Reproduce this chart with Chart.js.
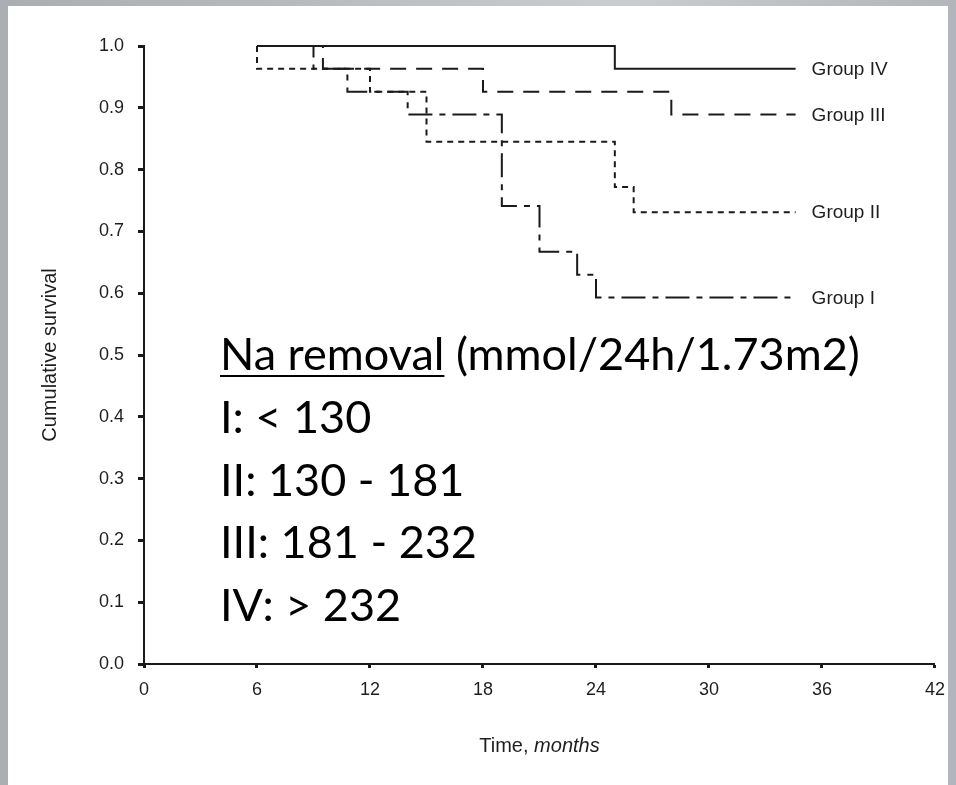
<!DOCTYPE html>
<html><head><meta charset="utf-8">
<script src="https://cdn.jsdelivr.net/npm/chart.js@4.4.1/dist/chart.umd.min.js"></script>
<style>
html,body{margin:0;padding:0;width:956px;height:785px;overflow:hidden;}
body{position:relative;background:linear-gradient(90deg,#aaaeb3 0%,#b6bac0 30%,#c9cdd2 65%,#b2b6bb 100%);}
#panel{position:absolute;left:8px;top:6px;width:940px;height:779px;background:#fff;}
#wrap{position:absolute;left:0;top:0;width:956px;height:785px;}
#note{position:absolute;left:220px;top:322px;font-family:Lato,'Open Sans',sans-serif;color:#000;line-height:62.8px;white-space:nowrap;}
#note span.u{text-decoration:underline;text-decoration-thickness:2px;text-underline-offset:5px;}
</style></head>
<body>
<div id="panel"></div>
<div id="wrap"><canvas id="c" width="956" height="785"></canvas></div>
<div id="note"></div>
<script>
// ---- data ----
const groupNames = ['Group I', 'Group II', 'Group III', 'Group IV'];
const groupI_t   = [6, 9, 10.8, 14, 19, 21, 23, 24, 34.6];
const groupI_s   = [1.0, 0.963, 0.926, 0.889, 0.741, 0.667, 0.630, 0.593, 0.593];
const groupII_t  = [6, 6, 12, 15, 25, 26, 34.6];
const groupII_s  = [1.0, 0.963, 0.926, 0.845, 0.772, 0.731, 0.731];
const groupIII_t = [6, 9.5, 18, 28, 34.6];
const groupIII_s = [1.0, 0.963, 0.926, 0.889, 0.889];
const groupIV_t  = [6, 25, 34.6];
const groupIV_s  = [1.0, 0.963, 0.963];
const xTicks = [0, 6, 12, 18, 24, 30, 36, 42];
const yTicks = [0.0, 0.1, 0.2, 0.3, 0.4, 0.5, 0.6, 0.7, 0.8, 0.9, 1.0];
const yTitle = 'Cumulative survival';
const xTitleA = 'Time, ';
const xTitleB = 'months';
const noteHead = 'Na removal';
const noteUnit = ' (mmol/24h/1.73m2)';
const noteLines = ['I: < 130', 'II: 130 - 181', 'III: 181 - 232', 'IV: > 232'];

// ---- annotation block ----
const note = document.getElementById('note');
const first = document.createElement('div');
const sp = document.createElement('span');
const su = document.createElement('span'); su.className = 'u'; su.textContent = noteHead;
sp.appendChild(su); sp.appendChild(document.createTextNode(noteUnit));
first.appendChild(sp); note.appendChild(first);
noteLines.forEach(t => { const d = document.createElement('div'); d.textContent = t; note.appendChild(d); });
let fs = 44; note.style.fontSize = fs + 'px';
const w0 = sp.getBoundingClientRect().width;
fs = fs * 640 / w0; note.style.fontSize = fs.toFixed(2) + 'px';

// ---- chart ----
const INK = '#1a1a1a';
const TXT = '#1e1e1e';
const SANS = '"Liberation Sans", Arial, Helvetica, sans-serif';
const NARROW = '"Liberation Sans Narrow", "Arial Narrow", "Liberation Sans", Arial, sans-serif';

function pts(t, s) { return t.map((v, i) => ({ x: v, y: s[i] })); }
const series = [
  { name: groupNames[0], data: pts(groupI_t, groupI_s), dash: [24, 7, 6, 7], order: 3 },
  { name: groupNames[1], data: pts(groupII_t, groupII_s), dash: [6, 5], order: 2 },
  { name: groupNames[2], data: pts(groupIII_t, groupIII_s), dash: [16, 10], order: 1 },
  { name: groupNames[3], data: pts(groupIV_t, groupIV_s), dash: [], order: 0 }
];

const labelPlugin = {
  id: 'endLabels',
  afterDraw(chart) {
    const { ctx, scales: { x, y } } = chart;
    ctx.save();
    ctx.fillStyle = TXT;
    ctx.font = '19px ' + SANS;
    ctx.textBaseline = 'middle';
    ctx.textAlign = 'left';
    chart.data.datasets.forEach(ds => {
      const last = ds.data[ds.data.length - 1];
      ctx.fillText(ds.label, x.getPixelForValue(last.x) + 16, y.getPixelForValue(last.y) + 1);
    });
    // x-axis title with italic part
    const fA = '20px ' + NARROW, fB = 'italic 20px ' + NARROW;
    ctx.font = fA; const wA = ctx.measureText(xTitleA).width;
    ctx.font = fB; const wB = ctx.measureText(xTitleB).width;
    const cx = (x.left + x.right) / 2;
    const ty = x.bottom + 22;
    let sx = cx - (wA + wB) / 2;
    ctx.font = fA; ctx.fillText(xTitleA, sx, ty);
    ctx.font = fB; ctx.fillText(xTitleB, sx + wA, ty);
    ctx.restore();
  }
};

new Chart(document.getElementById('c'), {
  type: 'scatter',
  data: {
    datasets: series.map(s => ({
      label: s.name,
      data: s.data,
      showLine: true,
      stepped: true,
      borderColor: INK,
      borderWidth: 2,
      borderDash: s.dash,
      borderCapStyle: 'butt',
      pointRadius: 0,
      pointHoverRadius: 0,
      fill: false,
      clip: false,
      order: s.order
    }))
  },
  options: {
    responsive: false,
    devicePixelRatio: 1,
    animation: false,
    events: [],
    layout: { padding: { left: 38, top: 46, right: 21, bottom: 61 } },
    plugins: { legend: { display: false }, tooltip: { enabled: false }, title: { display: false } },
    scales: {
      x: {
        type: 'linear', min: xTicks[0], max: xTicks[xTicks.length - 1],
        afterFit(s) { s.height = 60; },
        afterBuildTicks(s) { s.ticks = xTicks.map(v => ({ value: v })); },
        ticks: { padding: 11, color: TXT, font: { family: NARROW, size: 18 }, maxRotation: 0, autoSkip: false },
        grid: { drawOnChartArea: false, drawTicks: true, tickLength: 4, tickWidth: 3, tickColor: INK },
        border: { display: true, color: INK, width: 2 }
      },
      y: {
        type: 'linear', min: 0, max: 1,
        afterFit(s) { s.width = 106; },
        afterBuildTicks(s) { s.ticks = yTicks.map(v => ({ value: v })); },
        ticks: { padding: 14, color: TXT, font: { family: SANS, size: 18 }, callback: v => Number(v).toFixed(1), autoSkip: false },
        grid: { drawOnChartArea: false, drawTicks: true, tickLength: 6, tickWidth: 3, tickColor: INK },
        border: { display: true, color: INK, width: 2 },
        title: { display: true, text: yTitle, color: TXT, font: { family: NARROW, size: 20 }, padding: 0 }
      }
    }
  },
  plugins: [labelPlugin]
});
</script>
</body></html>
